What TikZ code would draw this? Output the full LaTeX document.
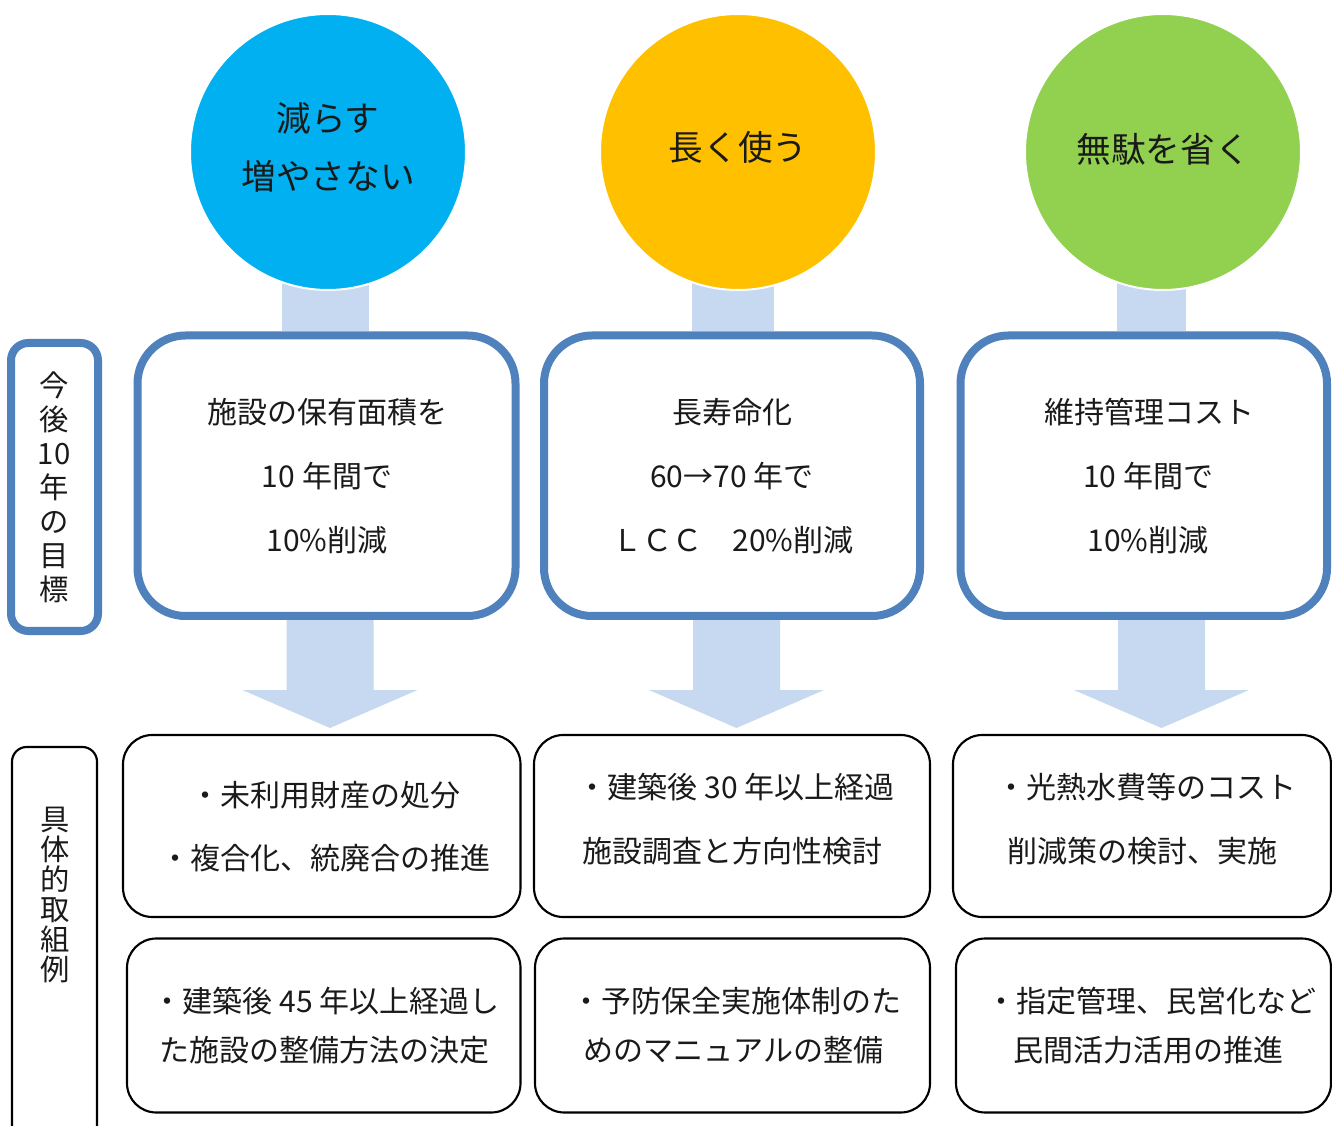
\documentclass[tikz,border=0pt]{standalone}
\usepackage{fontspec}
\setmainfont{Noto Sans CJK JP}
\usetikzlibrary{fit,backgrounds,calc}
\definecolor{cyanc}{HTML}{00B0F0}
\definecolor{orangec}{HTML}{FFC000}
\definecolor{greenc}{HTML}{92D050}
\definecolor{bordblue}{HTML}{4F81BD}
\definecolor{arrowfill}{HTML}{C6D9F1}
\definecolor{txt}{HTML}{1A1A1A}
\begin{document}
\begin{tikzpicture}[x=0.75pt,y=-0.75pt,
  goalbox/.style={draw=bordblue, line width=6pt, rounded corners=36pt, fill=white, inner sep=0pt},
  labbox/.style={draw=bordblue, line width=6pt, rounded corners=13pt, fill=white, inner sep=0pt},
  exbox/.style={draw=black, line width=1.6pt, rounded corners=22pt, fill=white, inner sep=0pt},
  exlab/.style={draw=black, line width=1.6pt, rounded corners=11pt, fill=white, inner sep=0pt},
  disc/.style={circle, draw=white, line width=1.5pt, minimum size=276*0.75pt, inner sep=0pt,
    align=center, text=txt, font=\fontsize{26}{43.5}\selectfont},
  disctext/.style={inner sep=0pt, align=center, text=txt, font=\fontsize{26}{43.5}\selectfont},
  txtline/.style={inner sep=0pt, text=txt, font=\fontsize{22.5}{27}\selectfont,
    text height=0.82em, text depth=0.08em, yshift=-5pt},
  vlab/.style={inner sep=0pt, align=center, text=txt},
  blockarrow/.style={fill=arrowfill, draw=none}]
\useasboundingbox (0,0) rectangle (1332,1126);

% circles
\node[disc, fill=cyanc] (c1) at (328,152) {};
\node[disc, fill=orangec] (c2) at (738,152) {};
\node[disc, fill=greenc] (c3) at (1163,152) {};
\node[disctext] (c1t) at (328,147) {減らす\\増やさない};
\node[disctext] (c2t) at (738,147) {長く使う};
\node[disctext] (c3t) at (1163,149) {無駄を省く};

% goal boxes
\node[goalbox, fit={(137.5,335.5) (515.5,616)}] (t1) {};
\node[goalbox, fit={(544,335.5) (920,616)}] (t2) {};
\node[goalbox, fit={(960.5,335.5) (1327,616)}] (t3) {};

% label boxes
\node[labbox, fit={(11,343) (98,631)}] (l1) {};
\node[vlab, font=\fontsize{22}{25.5}\selectfont] (l1t) at (54,487) {今\\後\\10\\年\\の\\目\\標};
\node[exlab, fit={(12,747) (97,1150)}] (l2) {};
\node[vlab, font=\fontsize{22}{22.6}\selectfont] (l2t) at (55,895) {具\\体\\的\\取\\組\\例};

% example boxes
\node[exbox, fit={(123,735) (520.5,917)}] (e11) {};
\node[exbox, fit={(534,735) (930,917)}] (e12) {};
\node[exbox, fit={(953,735) (1331,917)}] (e13) {};
\node[exbox, fit={(127,938.5) (520.5,1112.5)}] (e21) {};
\node[exbox, fit={(535,938.5) (930,1112.5)}] (e22) {};
\node[exbox, fit={(956,938.5) (1331,1112.5)}] (e23) {};

% connectors (block arrows) behind
\begin{pgfonlayer}{background}
  \fill[white] (0,0) rectangle (1332,1126);
  \fill[blockarrow] ($(c1.south)+(-46,-30)$) rectangle ($(t1.north)+(42,0)$);
  \fill[blockarrow] ($(c2.south)+(-46,-30)$) rectangle ($(t2.north)+(42,0)$);
  \fill[blockarrow] ($(c3.south)+(-46,-30)$) rectangle ($(t3.north)+(42,0)$);
  \foreach \cx/\b in {330/t1,736.5/t2,1161.5/t3}{
    \fill[blockarrow] (\cx-43.5,600) -- (\cx+43.5,600) -- (\cx+43.5,690) -- (\cx+87.5,690)
      -- (\cx,728) -- (\cx-87.5,690) -- (\cx-43.5,690) -- cycle;
  }
\end{pgfonlayer}

% goal texts
\node[txtline] (t1a) at (327,412) {施設の保有面積を};
\node[txtline] (t1b) at (327,476) {10 年間で};
\node[txtline] (t1c) at (327,540) {10\%削減};
\node[txtline] (t2a) at (732,412) {長寿命化};
\node[txtline] (t2b) at (732,476) {60→70 年で};
\node[txtline] (t2c) at (733,540) {ＬＣＣ　20\%削減};
\node[txtline] (t3a) at (1149,412) {維持管理コスト};
\node[txtline] (t3b) at (1148,476) {10 年間で};
\node[txtline] (t3c) at (1148,540) {10\%削減};

% example texts
\node[txtline] (e11a) at (325,795) {・未利用財産の処分};
\node[txtline] (e11b) at (325,858) {・複合化、統廃合の推進};
\node[txtline] (e12a) at (736,787) {・建築後 30 年以上経過};
\node[txtline] (e12b) at (732.5,851) {施設調査と方向性検討};
\node[txtline] (e13a) at (1146.5,787) {・光熱水費等のコスト};
\node[txtline] (e13b) at (1142.5,851) {削減策の検討、実施};
\node[txtline] (e21a) at (326,1001) {・建築後 45 年以上経過し};
\node[txtline] (e21b) at (324,1050) {た施設の整備方法の決定};
\node[txtline] (e22a) at (736.5,1001) {・予防保全実施体制のた};
\node[txtline] (e22b) at (733.5,1050) {めのマニュアルの整備};
\node[txtline] (e23a) at (1151,1001) {・指定管理、民営化など};
\node[txtline] (e23b) at (1148.5,1050) {民間活力活用の推進};
\end{tikzpicture}
\end{document}
